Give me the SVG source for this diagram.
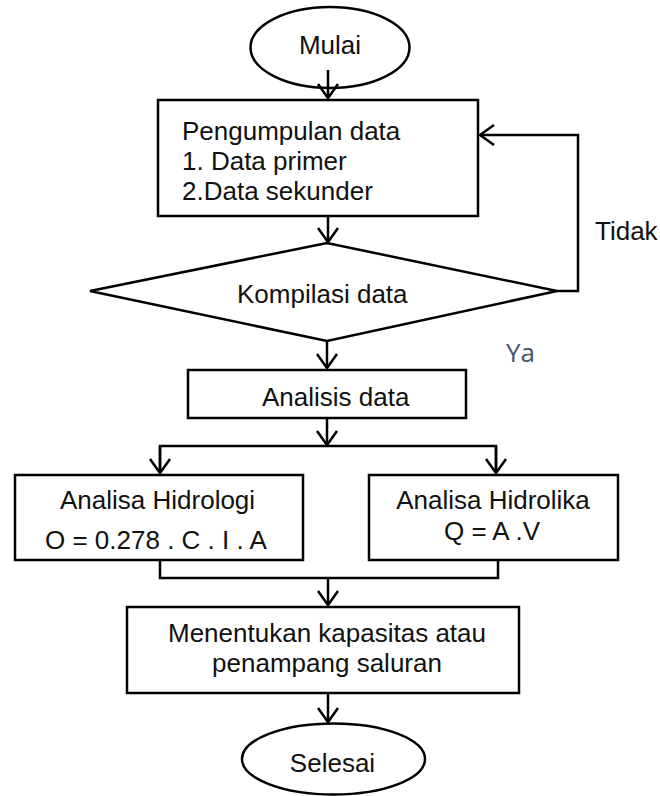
<svg xmlns="http://www.w3.org/2000/svg" width="660" height="796" viewBox="0 0 660 796">
<style>
.s{fill:none;stroke:#000;stroke-width:2.5}
.b{fill:#fff;stroke:#000;stroke-width:2.5}
.t{font-family:"Liberation Sans",Arial,sans-serif;font-size:26px;fill:#111}
.c{text-anchor:middle}
.ya{font-family:"Open Sans","Noto Sans",sans-serif;font-size:26px;fill:#44546A}
</style>
<defs>
<marker id="ar" markerUnits="userSpaceOnUse" markerWidth="30" markerHeight="30" refX="15" refY="15" orient="auto" overflow="visible">
<path d="M1,5 L15,15 L1,25" fill="none" stroke="#000" stroke-width="2.5"/>
</marker>
<clipPath id="clipQ"><rect x="15" y="475" width="288" height="74"/></clipPath>
</defs>
<rect width="660" height="796" fill="#fff"/>
<g id="connectors">
<line class="s" x1="328" y1="70" x2="328" y2="98" marker-end="url(#ar)"/>
<line class="s" x1="328" y1="216" x2="328" y2="242" marker-end="url(#ar)"/>
<polyline class="s" points="557,291 578,291 578,135 480,135" marker-end="url(#ar)"/>
<line class="s" x1="327" y1="342" x2="327" y2="368" marker-end="url(#ar)"/>
<line class="s" x1="327" y1="418" x2="327" y2="445" marker-end="url(#ar)"/>
<polyline class="s" points="160,473 160,446 496,446 496,473"/>
<line class="s" x1="160" y1="446" x2="160" y2="473" marker-end="url(#ar)"/>
<line class="s" x1="496" y1="446" x2="496" y2="473" marker-end="url(#ar)"/>
<polyline class="s" points="160,560 160,578 498,578 498,560"/>
<line class="s" x1="328" y1="578" x2="328" y2="605" marker-end="url(#ar)"/>
<line class="s" x1="328" y1="693" x2="328" y2="722" marker-end="url(#ar)"/>
</g>
<g id="mulai">
<ellipse class="s" cx="330" cy="47.5" rx="79.5" ry="40.5"/>
<text class="t c" x="330" y="54">Mulai</text>
</g>
<g id="pengumpulan">
<rect class="b" x="158" y="100" width="320" height="116"/>
<text class="t" x="182" y="140">Pengumpulan data</text>
<text class="t" x="182" y="170">1. Data primer</text>
<text class="t" x="182" y="200">2.Data sekunder</text>
</g>
<g id="kompilasi">
<polygon class="b" points="90,291 327,243 557,291 327,341"/>
<text class="t" x="237" y="303">Kompilasi data</text>
</g>
<g id="label-tidak">
<text class="t" x="595" y="240">Tidak</text>
</g>
<g id="label-ya">
<text class="ya" x="506" y="362">Ya</text>
</g>
<g id="analisis">
<rect class="b" x="188" y="370" width="278" height="48"/>
<text class="t" x="262" y="406">Analisis data</text>
</g>
<g id="hidrologi">
<rect class="b" x="15" y="475" width="288" height="85"/>
<text class="t" x="60" y="509">Analisa Hidrologi</text>
<text class="t" x="45" y="548.5" clip-path="url(#clipQ)">Q = 0.278 . C . I . A</text>
</g>
<g id="hidrolika">
<rect class="b" x="369" y="475" width="249" height="85"/>
<text class="t c" x="493" y="509">Analisa Hidrolika</text>
<text class="t c" x="492" y="540">Q = A .V</text>
</g>
<g id="menentukan">
<rect class="b" x="127" y="607" width="392" height="86"/>
<text class="t c" x="327" y="642">Menentukan kapasitas atau</text>
<text class="t c" x="327" y="672">penampang saluran</text>
</g>
<g id="selesai">
<ellipse class="s" cx="333.5" cy="759" rx="91.5" ry="35.5"/>
<text class="t c" x="332.5" y="772">Selesai</text>
</g>
</svg>
